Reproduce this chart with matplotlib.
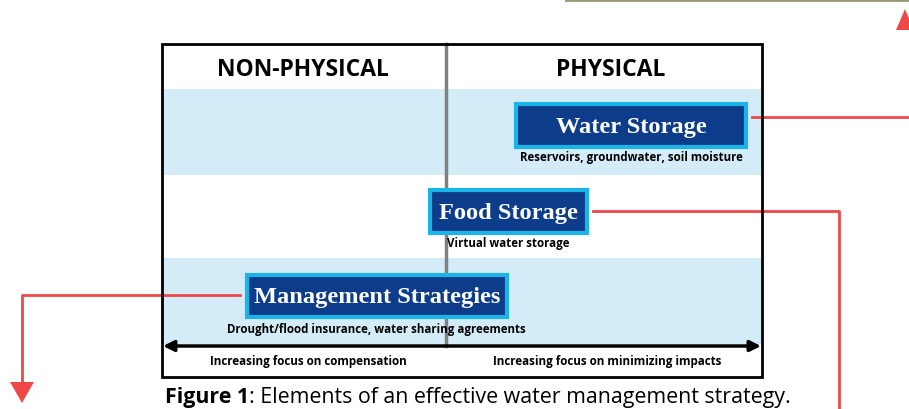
import matplotlib
matplotlib.use("Agg")
import matplotlib.pyplot as plt
from matplotlib.patches import Rectangle, Polygon

# diagram content
columns = ["NON-PHYSICAL", "PHYSICAL"]
elements = ["Water Storage", "Food Storage", "Management Strategies"]
examples = ["Reservoirs, groundwater, soil moisture",
            "Virtual water storage",
            "Drought/flood insurance, water sharing agreements"]
axis_notes = ["Increasing focus on compensation",
              "Increasing focus on minimizing impacts"]
caption_bold = "Figure 1"
caption_rest = ": Elements of an effective water management strategy."

W, H = 909, 410
fig = plt.figure(figsize=(W / 100, H / 100), dpi=100)
ax = fig.add_axes([0, 0, 1, 1])
ax.set_xlim(0, W)
ax.set_ylim(H, 0)
ax.axis("off")

light = "#d4ecf8"
dark = "#0d3d8a"
cyan = "#1ab4e8"
red = "#f04848"

# frame geometry (pixels)
L, R, T, B = 162, 762, 45, 378
mid = 446
bands = [(90, 176, light), (176, 259, "white"), (259, 345, light)]
for y0, y1, c in bands:
    ax.add_patch(Rectangle((L, y0), R - L, y1 - y0, fc=c, ec="none", zorder=1))
ax.add_patch(Rectangle((L, T), R - L, B - T, fc="none", ec="black", lw=2, zorder=5))
ax.plot([mid, mid], [T, 347], color="#808080", lw=2.5, zorder=2)

# column headers
for txt, x in zip(columns, [303, 611]):
    ax.text(x, 70, txt, ha="center", va="center", fontsize=16.5, fontweight="bold",
            family="Open Sans", zorder=6)

# element boxes
boxes = [(516, 105, 746, 148), (430, 191, 587, 234), (247, 276, 507, 318)]
sub_pos = [(631, 158), (508, 244), (376, 330)]
for (x0, y0, x1, y1), lab, sub, (sx, sy) in zip(boxes, elements, examples, sub_pos):
    ax.add_patch(Rectangle((x0, y0), x1 - x0, y1 - y0, fc=dark, ec=cyan, lw=3, zorder=4))
    ax.text((x0 + x1) / 2, (y0 + y1) / 2 + 1, lab, ha="center", va="center",
            color="white", fontsize=17.6, fontweight="bold", family="Liberation Serif",
            zorder=6)
    ax.text(sx, sy, sub, ha="center", va="center", fontsize=8.3, fontweight="bold",
            family="Open Sans", zorder=6)

# double-headed axis arrow
ax.annotate("", xy=(L + 1, 347), xytext=(R - 1, 347),
            arrowprops=dict(arrowstyle="<|-|>", color="black", lw=2.5,
                            mutation_scale=16, shrinkA=0, shrinkB=0), zorder=6)
for txt, x in zip(axis_notes, [308, 607]):
    ax.text(x, 362, txt, ha="center", va="center", fontsize=8.4, fontweight="bold",
            family="Open Sans", zorder=6)

# red connector lines
ax.plot([752, W], [118, 118], color=red, lw=2, zorder=3)
ax.plot([593, 839, 839], [212, 212, H], color=red, lw=2, zorder=3)
ax.plot([240, 22, 22], [296, 296, 385], color=red, lw=2, zorder=3)
ax.add_patch(Polygon([(10, 383), (34, 383), (22, 404)], closed=True, fc=red, ec="none"))
ax.add_patch(Polygon([(905, 10), (896, 31), (914, 31)], closed=True, fc=red, ec="none"))
ax.plot([566, W], [0.8, 0.8], color="#9a9a78", lw=2)

# caption
t1 = ax.text(165, 398, caption_bold, ha="left", va="center", fontsize=15.4,
             fontweight="bold", family="Open Sans")
fig.canvas.draw()
bb = t1.get_window_extent()
x_next = bb.x1
ax.text(x_next, 398, caption_rest, ha="left", va="center", fontsize=15.4,
        family="Open Sans")

fig.savefig("out.png", dpi=100)
